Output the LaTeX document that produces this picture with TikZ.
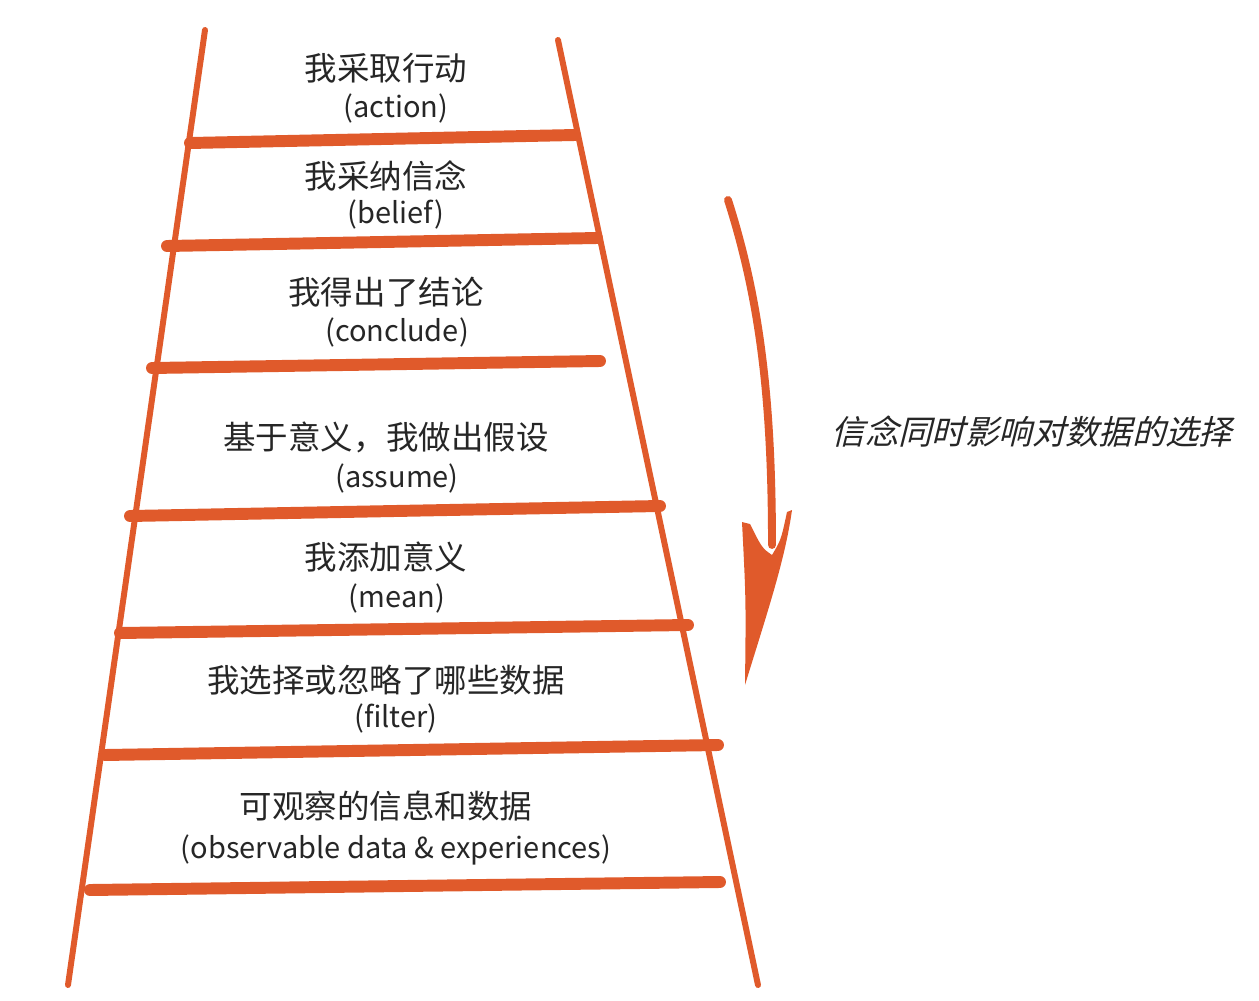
\documentclass[tikz,border=0pt]{standalone}
\usepackage{fontspec}
\setmainfont{Noto Sans CJK SC}
\newfontfamily\cjkslant[FakeSlant=0.25]{Noto Sans CJK SC}
\usetikzlibrary{positioning}
\definecolor{rungred}{HTML}{E05A2B}
\definecolor{inkgray}{HTML}{262626}

\begin{document}
\begin{tikzpicture}[x=0.02cm, y=-0.02cm,
    rail/.style={rungred, line width=3.4pt, line cap=round},
    rung/.style={rungred, line width=6.8pt, line cap=round},
    cn/.style={inkgray, inner sep=0pt, font=\fontsize{18.5}{20}\selectfont},
    en/.style={inkgray, inner sep=0pt, font=\fontsize{16.5}{18}\selectfont}]
  \useasboundingbox (0,0) rectangle (1259,1001);

  % rails
  \draw[rail] (205,30) -- (68,985);
  \draw[rail] (558,40) -- (758,985);

  % rungs
  \draw[rung] (190,143) -- (575,135);
  \draw[rung] (167,246) -- (597,238);
  \draw[rung] (152,368) -- (600,361);
  \draw[rung] (130,516) -- (660,506);
  \draw[rung] (120,633) -- (688,625);
  \draw[rung] (105,755) -- (718,745);
  \draw[rung] (90,890) -- (720,882);

  % steps
  \node[cn] (c1) at (386,68) {我采取行动};
  \node[en] (e1) at (396,108) {(action)};
  \node[cn] (c2) at (386,176) {我采纳信念};
  \node[en] (e2) at (396,214) {(belief)};
  \node[cn] (c3) at (386,292) {我得出了结论};
  \node[en] (e3) at (397,332) {(conclude)};
  \node[cn] (c4) at (386,437) {基于意义，我做出假设};
  \node[en] (e4) at (397,478) {(assume)};
  \node[cn] (c5) at (386,557) {我添加意义};
  \node[en] (e5) at (397,598) {(mean)};
  \node[cn] (c6) at (386,680) {我选择或忽略了哪些数据};
  \node[en] (e6) at (396,718) {(filter)};
  \node[cn] (c7) at (386,806) {可观察的信息和数据};
  \node[en] (e7) at (396,850) {(observable data \& experiences)};

  % loop arrow
  \coordinate (a1) at (728,200);
  \coordinate (a2) at (772,545);
  \draw[rungred, line width=4.5pt, line cap=round] (a1) .. controls (760,300) and (772,400) .. (a2);
  \fill[rungred] (742,522) .. controls (746,600) .. (745,685)
    .. controls (768,610) and (785,560) .. (792,510) -- (787,512)
    .. controls (781,540) .. (772,555) .. controls (762,548) .. (750,524) -- cycle;
  \node[inkgray, inner sep=0pt, font=\cjkslant\fontsize{19}{21}\selectfont] (side) at (1032,432) {信念同时影响对数据的选择};
\end{tikzpicture}
\end{document}
